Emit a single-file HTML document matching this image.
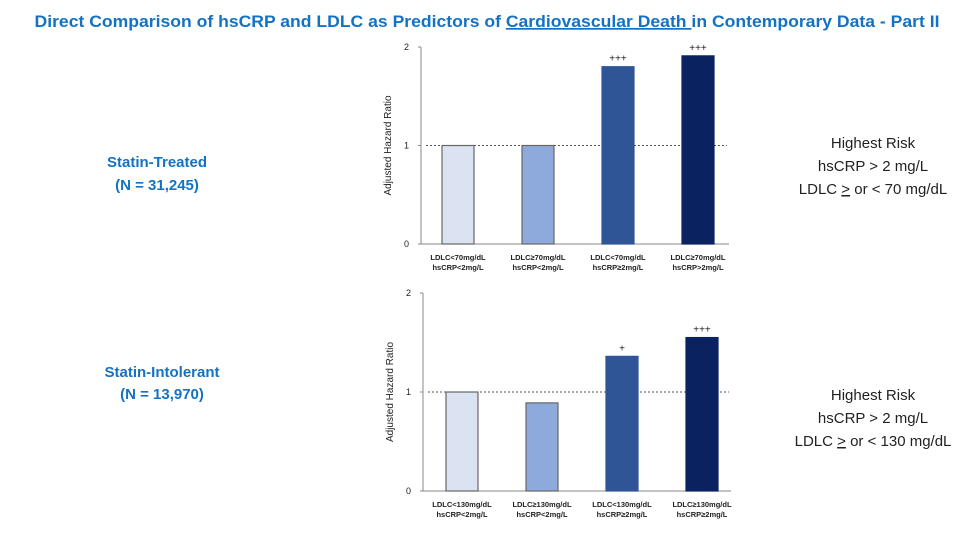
<!DOCTYPE html>
<html><head><meta charset="utf-8"><style>
html,body{margin:0;padding:0;background:#fff;}
svg{display:block;font-family:"Liberation Sans",sans-serif;}
</style></head><body>
<svg id="s" width="975" height="544" viewBox="0 0 975 544">
<text x="487" y="27" text-anchor="middle" font-size="17" font-weight="bold" fill="#1472c4" textLength="905" lengthAdjust="spacingAndGlyphs">Direct Comparison of hsCRP and LDLC as Predictors of <tspan text-decoration="underline">Cardiovascular Death </tspan>in Contemporary Data - Part II</text>
<text x="157" y="167" text-anchor="middle" font-size="15" font-weight="bold" fill="#1472c4">Statin-Treated</text>
<text x="157" y="190" text-anchor="middle" font-size="15" font-weight="bold" fill="#1472c4">(N = 31,245)</text>
<text x="162" y="377" text-anchor="middle" font-size="15" font-weight="bold" fill="#1472c4">Statin-Intolerant</text>
<text x="162" y="399" text-anchor="middle" font-size="15" font-weight="bold" fill="#1472c4">(N = 13,970)</text>
<g font-size="15" fill="#222" text-anchor="middle">
<text x="873" y="148">Highest Risk</text>
<text x="873" y="171">hsCRP &gt; 2 mg/L</text>
<text x="873" y="194">LDLC <tspan text-decoration="underline">&gt;</tspan> or &lt; 70 mg/dL</text>
</g>
<g font-size="15" fill="#222" text-anchor="middle">
<text x="873" y="400">Highest Risk</text>
<text x="873" y="423">hsCRP &gt; 2 mg/L</text>
<text x="873" y="446">LDLC <tspan text-decoration="underline">&gt;</tspan> or &lt; 130 mg/dL</text>
</g>
<g id="c1"></g>
<g id="c2"></g>
</svg>
<script>
const cats1Line1 = ["LDLC<70mg/dL","LDLC\u226570mg/dL","LDLC<70mg/dL","LDLC\u226570mg/dL"];
const cats1Line2 = ["hsCRP<2mg/L","hsCRP<2mg/L","hsCRP\u22652mg/L","hsCRP>2mg/L"];
const values1 = [1.0, 1.0, 1.80, 1.91];
const sig1 = ["","","+++","+++"];
const cats2Line1 = ["LDLC<130mg/dL","LDLC\u2265130mg/dL","LDLC<130mg/dL","LDLC\u2265130mg/dL"];
const cats2Line2 = ["hsCRP<2mg/L","hsCRP<2mg/L","hsCRP\u22652mg/L","hsCRP\u22652mg/L"];
const values2 = [1.0, 0.89, 1.36, 1.55];
const sig2 = ["","","+","+++"];
const yTicks = [0,1,2];
const colors = ["#dbe3f3","#8eaadc","#2f5597","#0b2260"];
const NS = "http://www.w3.org/2000/svg";
function mk(p, tag, attrs){const e=document.createElementNS(NS,tag);for(const k in attrs)e.setAttribute(k,attrs[k]);p.appendChild(e);return e;}
function draw(gid, ax, y0, y2, firstX, l1, l2, vals, sig){
  const g=document.getElementById(gid);
  const y=v=>y0+(y2-y0)*v/2;
  const x=i=>firstX+i*80;
  const a=mk(g,"line",{x1:ax,y1:y2,x2:ax,y2:y0,stroke:"#888","stroke-width":1});
  
  
  const b=mk(g,"line",{x1:ax,y1:y0,x2:ax+308,y2:y0,stroke:"#888","stroke-width":1});
  
  
  yTicks.forEach(t=>{
    mk(g,"line",{x1:ax-3,y1:y(t),x2:ax,y2:y(t),stroke:"#888"});
    const tx=mk(g,"text",{x:ax-12,y:y(t)+3,"font-size":9,"text-anchor":"end",fill:"#222"});
    tx.textContent=t;
    
    
  });
  const ref=mk(g,"line",{x1:ax+5,y1:y(1),x2:ax+306,y2:y(1),stroke:"#555","stroke-dasharray":"2,2","stroke-width":1});
  
  
  const yt=mk(g,"text",{x:0,y:0,"font-size":10,"text-anchor":"middle",fill:"#222",transform:`translate(${ax-30},${(y0+y2)/2}) rotate(-90)`});
  yt.textContent="Adjusted Hazard Ratio";
  
  
  vals.forEach((v,i)=>{
    const r=mk(g,"rect",{x:x(i),y:y(v),width:32,height:y0-y(v),fill:colors[i],stroke:i<2?"#666":colors[i],"stroke-width":1.2});
    
    
    if(sig[i]){const s=mk(g,"text",{x:x(i)+16,y:y(v)-5,"font-size":10,"text-anchor":"middle",fill:"#222"});s.textContent=sig[i];
      
      }
    const c1=mk(g,"text",{x:x(i)+16,y:y0+16,"font-size":7.5,"font-weight":"bold","text-anchor":"middle",fill:"#222"});c1.textContent=l1[i];
    
    
    const c2=mk(g,"text",{x:x(i)+16,y:y0+26,"font-size":7.5,"font-weight":"bold","text-anchor":"middle",fill:"#222"});c2.textContent=l2[i];
    
    
  });
}
draw("c1",421,244,47,442,cats1Line1,cats1Line2,values1,sig1);
draw("c2",423,491,293,446,cats2Line1,cats2Line2,values2,sig2);
</script>
</body></html>
